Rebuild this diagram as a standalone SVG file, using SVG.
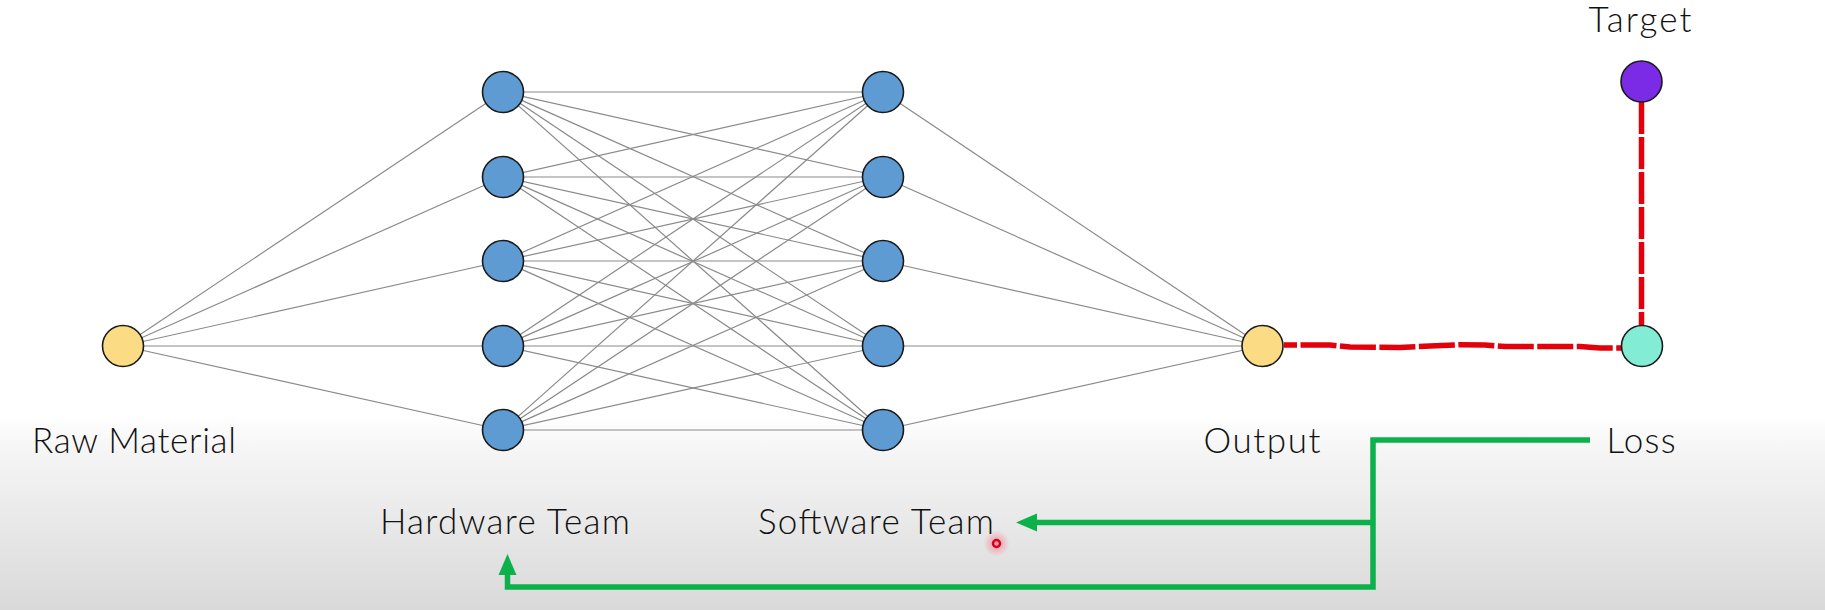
<svg xmlns="http://www.w3.org/2000/svg" width="1825" height="610" viewBox="0 0 1825 610">
<style>
.lbl{font-family:Lato,"Noto Sans","Liberation Sans",sans-serif;font-size:35px;font-weight:300;fill:#111;text-anchor:middle}
.n{stroke:#1a1a1a;stroke-width:1.6}
.blue{fill:#5e9bd3}
.yel{fill:#fbdc84}
.e{stroke:#8a8a8a;stroke-width:1.2;fill:none}
.red{stroke:#e3000b;stroke-width:5.5;fill:none}
.grn{stroke:#0db14b;stroke-width:5.5;fill:none}
</style>
<defs>
<linearGradient id="bg" x1="0" y1="0" x2="0" y2="1">
<stop offset="0" stop-color="#ffffff"/>
<stop offset="0.68" stop-color="#ffffff"/>
<stop offset="0.74" stop-color="#f5f5f5"/>
<stop offset="1" stop-color="#d9d9d9"/>
</linearGradient>
<radialGradient id="glow">
<stop offset="0" stop-color="#ff4d6a" stop-opacity="0.55"/>
<stop offset="1" stop-color="#ff4d6a" stop-opacity="0"/>
</radialGradient>
<marker id="ah" markerUnits="userSpaceOnUse" markerWidth="22" markerHeight="20" refX="2" refY="10" orient="auto">
<path d="M0,1 L21,10 L0,19 Z" fill="#0db14b"/>
</marker>
</defs>
<rect x="0" y="0" width="1825" height="610" fill="url(#bg)"/>

<g id="connectors">
<g id="edges-in">
<line class="e" x1="123" y1="346" x2="503" y2="92"/>
<line class="e" x1="123" y1="346" x2="503" y2="177"/>
<line class="e" x1="123" y1="346" x2="503" y2="261"/>
<line class="e" x1="123" y1="346" x2="503" y2="346"/>
<line class="e" x1="123" y1="346" x2="503" y2="430"/>
</g>
<g id="edges-hidden">
<line class="e" x1="503" y1="92" x2="883" y2="92"/>
<line class="e" x1="503" y1="92" x2="883" y2="177"/>
<line class="e" x1="503" y1="92" x2="883" y2="261"/>
<line class="e" x1="503" y1="92" x2="883" y2="346"/>
<line class="e" x1="503" y1="92" x2="883" y2="430"/>
<line class="e" x1="503" y1="177" x2="883" y2="92"/>
<line class="e" x1="503" y1="177" x2="883" y2="177"/>
<line class="e" x1="503" y1="177" x2="883" y2="261"/>
<line class="e" x1="503" y1="177" x2="883" y2="346"/>
<line class="e" x1="503" y1="177" x2="883" y2="430"/>
<line class="e" x1="503" y1="261" x2="883" y2="92"/>
<line class="e" x1="503" y1="261" x2="883" y2="177"/>
<line class="e" x1="503" y1="261" x2="883" y2="261"/>
<line class="e" x1="503" y1="261" x2="883" y2="346"/>
<line class="e" x1="503" y1="261" x2="883" y2="430"/>
<line class="e" x1="503" y1="346" x2="883" y2="92"/>
<line class="e" x1="503" y1="346" x2="883" y2="177"/>
<line class="e" x1="503" y1="346" x2="883" y2="261"/>
<line class="e" x1="503" y1="346" x2="883" y2="346"/>
<line class="e" x1="503" y1="346" x2="883" y2="430"/>
<line class="e" x1="503" y1="430" x2="883" y2="92"/>
<line class="e" x1="503" y1="430" x2="883" y2="177"/>
<line class="e" x1="503" y1="430" x2="883" y2="261"/>
<line class="e" x1="503" y1="430" x2="883" y2="346"/>
<line class="e" x1="503" y1="430" x2="883" y2="430"/>
</g>
<g id="edges-out">
<line class="e" x1="883" y1="92" x2="1262" y2="346"/>
<line class="e" x1="883" y1="177" x2="1262" y2="346"/>
<line class="e" x1="883" y1="261" x2="1262" y2="346"/>
<line class="e" x1="883" y1="346" x2="1262" y2="346"/>
<line class="e" x1="883" y1="430" x2="1262" y2="346"/>
</g>
<path id="output-loss" class="red" stroke-dasharray="36 3.5" stroke-dashoffset="23" d="M1284,345 L1330,345 L1350,347 L1400,347.5 L1430,346 L1460,344.8 L1485,345 L1505,346.5 L1580,346.5 L1600,348 L1622,348"/>
<path id="target-loss" class="red" stroke-dasharray="32 3" d="M1641.5,102 L1641.5,325"/>
<path id="loss-feedback" class="grn" d="M1590,440 H1373 V587 H507.5 V573" marker-end="url(#ah)"/>
<path id="to-software" class="grn" d="M1373,522.5 H1035" marker-end="url(#ah)"/>
</g>

<g id="raw-material">
<circle class="n yel" cx="123" cy="346" r="20.5"/>
<text class="lbl" x="134" y="453" textLength="204" lengthAdjust="spacing">Raw Material</text>
</g>
<g id="h1-1"><circle class="n blue" cx="503" cy="92" r="20.5"/></g>
<g id="h1-2"><circle class="n blue" cx="503" cy="177" r="20.5"/></g>
<g id="h1-3"><circle class="n blue" cx="503" cy="261" r="20.5"/></g>
<g id="h1-4"><circle class="n blue" cx="503" cy="346" r="20.5"/></g>
<g id="h1-5"><circle class="n blue" cx="503" cy="430" r="20.5"/></g>
<g id="h2-1"><circle class="n blue" cx="883" cy="92" r="20.5"/></g>
<g id="h2-2"><circle class="n blue" cx="883" cy="177" r="20.5"/></g>
<g id="h2-3"><circle class="n blue" cx="883" cy="261" r="20.5"/></g>
<g id="h2-4"><circle class="n blue" cx="883" cy="346" r="20.5"/></g>
<g id="h2-5"><circle class="n blue" cx="883" cy="430" r="20.5"/></g>
<g id="output">
<circle class="n yel" cx="1262.5" cy="346" r="20.5"/>
<text class="lbl" x="1262" y="453" textLength="117" lengthAdjust="spacing">Output</text>
</g>
<g id="loss">
<circle class="n" fill="#83ecd5" cx="1642" cy="346" r="20.5"/>
<text class="lbl" x="1641" y="453" textLength="69" lengthAdjust="spacing">Loss</text>
</g>
<g id="target">
<circle class="n" fill="#7b2ae6" cx="1641.5" cy="81.5" r="20.5"/>
<text class="lbl" x="1640" y="32" textLength="103" lengthAdjust="spacing">Target</text>
</g>
<g id="hardware-team">
<text class="lbl" x="505" y="534" textLength="250" lengthAdjust="spacing">Hardware Team</text>
</g>
<g id="software-team">
<text class="lbl" x="876" y="534" textLength="236" lengthAdjust="spacing">Software Team</text>
</g>
<g id="cursor">
<circle cx="996.5" cy="543.5" r="13" fill="url(#glow)"/>
<circle cx="996.5" cy="543.5" r="3.5" fill="none" stroke="#d6001c" stroke-width="2.5"/>
</g>
</svg>
